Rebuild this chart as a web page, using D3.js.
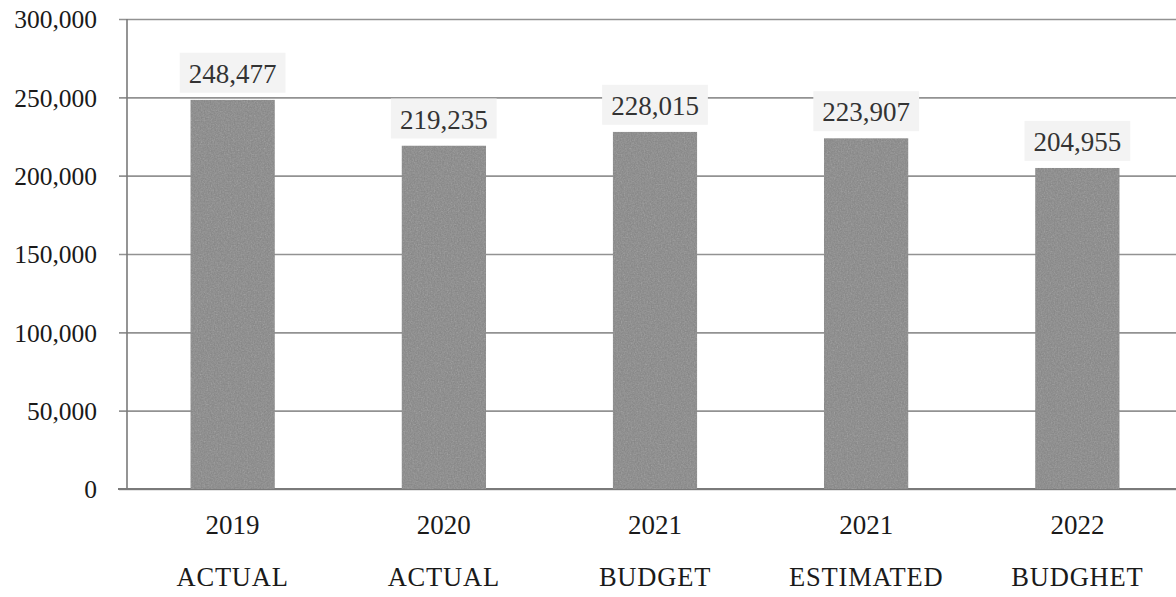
<!DOCTYPE html>
<html>
<head>
<meta charset="utf-8">
<script src="https://cdn.jsdelivr.net/npm/d3@7"></script>
<style>
  html, body { margin: 0; padding: 0; background: #fff; }
  svg { display: block; }
  text { font-family: "Liberation Serif", "DejaVu Serif", serif; }
</style>
</head>
<body>
<svg id="chart" width="1176" height="597"></svg>
<script>
// Category labels (two lines each) and values
const years = ["2019", "2020", "2021", "2021", "2022"];
const kinds = ["ACTUAL", "ACTUAL", "BUDGET", "ESTIMATED", "BUDGHET"];
const values = [248477, 219235, 228015, 223907, 204955];
const yTicks = [0, 50000, 100000, 150000, 200000, 250000, 300000];

(function () {
const svg = d3.select("#chart");
const W = 1176;
const plotLeft = 127, plotTop = 19, plotBottom = 489, plotRight = 1183;

const keys = years.map((d, i) => i);
const x = d3.scaleBand().domain(keys).range([plotLeft, plotRight]).paddingInner(0.6).paddingOuter(0.3);
const y = d3.scaleLinear().domain([0, 300000]).range([plotBottom, plotTop]);

// Light grain filter for the bars
const defs = svg.append("defs");
const f = defs.append("filter").attr("id", "grain").attr("x", 0).attr("y", 0).attr("width", 1).attr("height", 1);
f.append("feTurbulence").attr("type", "fractalNoise").attr("baseFrequency", 0.7).attr("numOctaves", 2).attr("seed", 7).attr("result", "noise");
f.append("feColorMatrix").attr("in", "noise").attr("type", "saturate").attr("values", 0).attr("result", "gn");
f.append("feComposite").attr("in", "SourceGraphic").attr("in2", "gn").attr("operator", "arithmetic")
  .attr("k1", 0).attr("k2", 1).attr("k3", 0.22).attr("k4", -0.055).attr("result", "mix");
f.append("feComposite").attr("in", "mix").attr("in2", "SourceGraphic").attr("operator", "in");

// Horizontal gridlines with short ticks left of the axis
const yAxis = d3.axisLeft(y).tickValues(yTicks).tickSize(-(plotRight - plotLeft)).tickPadding(0)
  .tickFormat(d3.format(","));
const gy = svg.append("g").attr("transform", `translate(${plotLeft},0)`).call(yAxis);
gy.select(".domain").remove();
gy.selectAll(".tick line").attr("stroke", "#929292").attr("stroke-width", 1.6).attr("x1", -8);
gy.selectAll(".tick text").attr("x", -30).attr("dy", "0.34em")
  .attr("fill", "#1a1a1a").style("font-size", "25.5px");

// Vertical axis line
svg.append("line").attr("x1", plotLeft).attr("x2", plotLeft).attr("y1", y(300000)).attr("y2", y(0))
  .attr("stroke", "#7a7a7a").attr("stroke-width", 1.6);
// Baseline
svg.append("line").attr("x1", plotLeft - 9).attr("x2", W).attr("y1", y(0)).attr("y2", y(0))
  .attr("stroke", "#7a7a7a").attr("stroke-width", 1.8);

// Bars
svg.append("g").selectAll("rect").data(values).join("rect")
  .attr("x", (d, i) => x(i))
  .attr("y", d => y(d))
  .attr("width", x.bandwidth())
  .attr("height", d => y(0) - y(d))
  .attr("fill", "#909090")
  .attr("filter", "url(#grain)");

// Value labels on light boxes
const lab = svg.append("g").selectAll("g").data(values).join("g")
  .attr("transform", (d, i) => `translate(${x(i) + x.bandwidth() / 2},${y(d) - 17})`);
const fmt = d3.format(",");
lab.each(function (d) {
  const g = d3.select(this);
  const r = g.append("rect").attr("fill", "#f3f3f3");
  const t = g.append("text").attr("text-anchor", "middle").attr("fill", "#333")
    .style("font-size", "27px").text(fmt(d));
  const bb = t.node().getBBox();
  r.attr("x", bb.x - 9).attr("y", -30).attr("width", bb.width + 18).attr("height", 40);
});

// Category labels
const cats = svg.append("g").selectAll("g").data(keys).join("g")
  .attr("transform", i => `translate(${x(i) + x.bandwidth() / 2},0)`);
cats.append("text").attr("y", 534).attr("text-anchor", "middle").attr("fill", "#1a1a1a")
  .style("font-size", "27px").text(i => years[i]);
cats.append("text").attr("y", 586).attr("text-anchor", "middle").attr("fill", "#1a1a1a")
  .style("font-size", "26.5px").style("letter-spacing", "0.8px").text(i => kinds[i]);
})();
</script>
</body>
</html>
